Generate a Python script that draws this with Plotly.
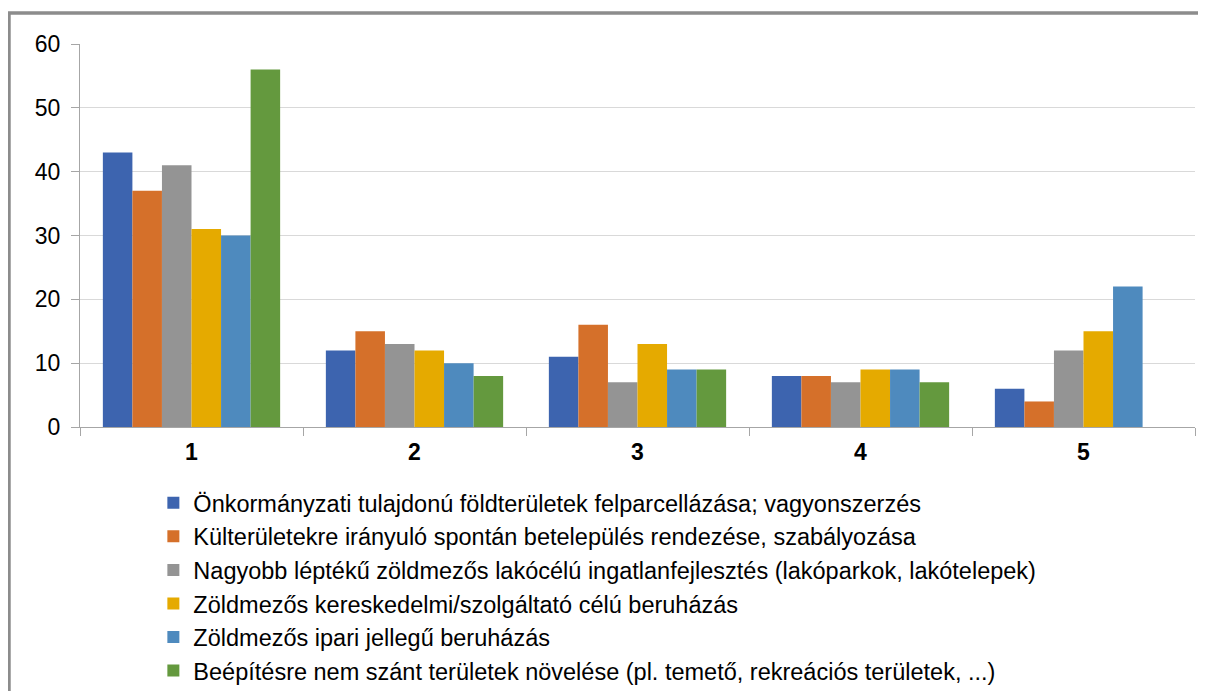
import plotly.graph_objects as go

categories = ["1", "2", "3", "4", "5"]
series_names = [
    "Önkormányzati tulajdonú földterületek felparcellázása; vagyonszerzés",
    "Külterületekre irányuló spontán betelepülés rendezése, szabályozása",
    "Nagyobb léptékű zöldmezős lakócélú ingatlanfejlesztés (lakóparkok, lakótelepek)",
    "Zöldmezős kereskedelmi/szolgáltató célú beruházás",
    "Zöldmezős ipari jellegű beruházás",
    "Beépítésre nem szánt területek növelése (pl. temető, rekreációs területek, ...)",
]
s1 = [43, 12, 11, 8, 6]
s2 = [37, 15, 16, 8, 4]
s3 = [41, 13, 7, 7, 12]
s4 = [31, 12, 13, 9, 15]
s5 = [30, 10, 9, 9, 22]
s6 = [56, 8, 9, 7, None]
series_values = [s1, s2, s3, s4, s5, s6]
colors = ["#3D64AF", "#D5702A", "#949494", "#E5AA00", "#4E8ABE", "#64993E"]
y_ticks = [0, 10, 20, 30, 40, 50, 60]

FONT = "Liberation Sans, Arial, sans-serif"

fig = go.Figure()
for name, vals, col in zip(series_names, series_values, colors):
    fig.add_trace(go.Bar(
        x=categories, y=vals, name=name, marker_color=col, marker_line_width=0,
    ))

# page body has an 8px margin, so the figure is drawn 8px right/down
fig.update_layout(
    width=1198, height=683,
    paper_bgcolor="white", plot_bgcolor="white",
    margin=dict(l=72, r=11, t=36, b=264, autoexpand=False),
    barmode="group", bargap=0.205, bargroupgap=0,
    font=dict(family=FONT, size=23, color="#000000"),
    showlegend=True,
    legend=dict(
        x=0.0658, y=-0.141, xanchor="left", yanchor="top",
        orientation="v", traceorder="normal",
        font=dict(size=23.5, color="#000000"), bgcolor="rgba(0,0,0,0)",
    ),
    shapes=[dict(
        type="rect", xref="paper", yref="paper",
        x0=-0.0637, x1=1.2, y0=-1.0, y1=1.081,
        line=dict(color="#8C8C8C", width=3.5), fillcolor="rgba(0,0,0,0)", layer="below",
    )],
)
fig.update_xaxes(
    type="category", showgrid=False,
    showline=True, linecolor="#A6A6A6", linewidth=1,
    ticks="outside", tickson="boundaries", ticklen=8, tickcolor="#A6A6A6",
    ticklabelstandoff=4,
    tickfont=dict(size=23, family=FONT, weight="bold"),
)
fig.update_yaxes(
    range=[0, 60], tickvals=y_ticks, showgrid=True, gridcolor="#D9D9D9", gridwidth=1,
    showline=True, linecolor="#A6A6A6", linewidth=1,
    ticks="outside", ticklen=8, tickcolor="#A6A6A6", ticklabelstandoff=6,
    zeroline=False, tickfont=dict(size=23),
)

fig.write_html("out.html")
